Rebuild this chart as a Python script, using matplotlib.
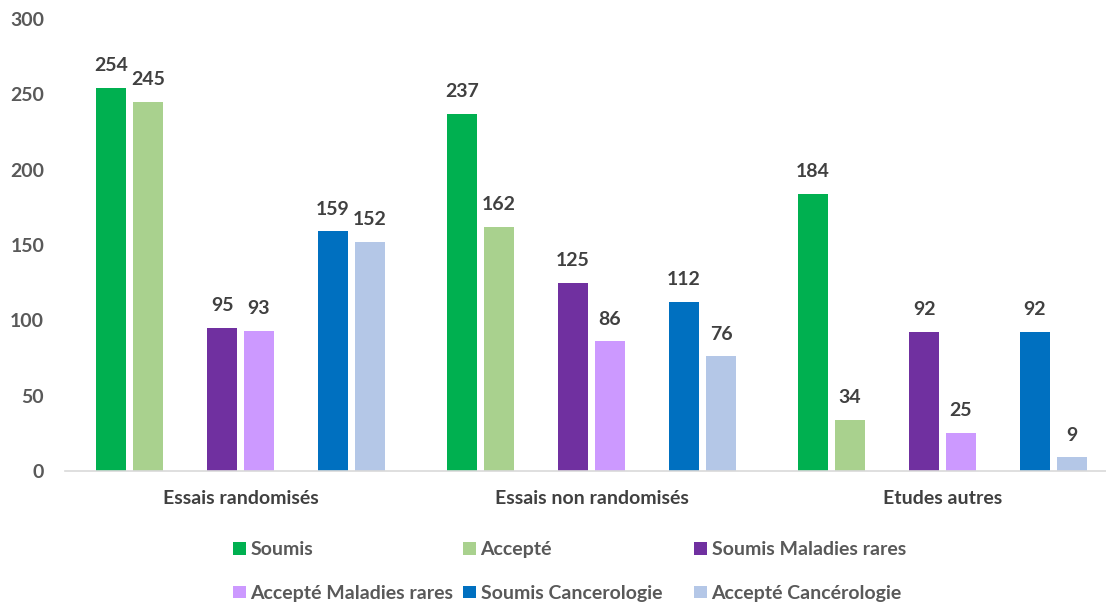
import matplotlib.pyplot as plt
import numpy as np
from matplotlib.patches import Patch

# data
categories = ['Essais randomisés', 'Essais non randomisés', 'Etudes autres']
series = ['Soumis', 'Accepté', 'Soumis Maladies rares',
          'Accepté Maladies rares', 'Soumis Cancerologie', 'Accepté Cancérologie']
soumis = [254, 237, 184]
accepte = [245, 162, 34]
soumis_mr = [95, 125, 92]
accepte_mr = [93, 86, 25]
soumis_c = [159, 112, 92]
accepte_c = [152, 76, 9]
values = [soumis, accepte, soumis_mr, accepte_mr, soumis_c, accepte_c]

colors = ['#00B050', '#A9D18E', '#7030A0', '#CC99FF', '#0070C0', '#B4C7E7']

plt.rcParams['font.family'] = ['Lato', 'DejaVu Sans']
plt.rcParams['font.weight'] = 'bold'

W, H = 1106, 602
fig = plt.figure(figsize=(W / 100, H / 100), dpi=100)
ax = fig.add_axes([65 / W, 131 / H, (1118 - 65) / W, (471 - 19) / H])

offsets = [-0.369, -0.2635, -0.0527, 0.0527, 0.2635, 0.369]
width = 0.0855
x = np.arange(len(categories))

for vals, off, c, name in zip(values, offsets, colors, series):
    bars = ax.bar(x + off, vals, width, color=c, label=name, zorder=2)
    for b, v in zip(bars, vals):
        ax.annotate(str(v), (b.get_x() + b.get_width() / 2, v),
                    xytext=(0, 10), textcoords='offset points',
                    ha='center', va='bottom', fontsize=14,
                    fontweight='bold', color='#404040')

ax.set_xlim(-0.5, 2.5)
ax.set_ylim(0, 300)
ax.set_yticks(range(0, 301, 50))
ax.set_xticks(x)
ax.set_xticklabels(categories)
ax.tick_params(axis='y', length=0, pad=15, labelsize=14, labelcolor='#595959')
ax.tick_params(axis='x', length=0, pad=14, labelsize=14, labelcolor='#404040')
for t in ax.get_xticklabels() + ax.get_yticklabels():
    t.set_fontweight('bold')
for s in ['top', 'right', 'left']:
    ax.spines[s].set_visible(False)
ax.spines['bottom'].set_color('#D9D9D9')
ax.spines['bottom'].set_linewidth(1.2)

# legend: three columns with equal spacing, like the original
handles = [Patch(facecolor=c) for c in colors]
col_x = [233, 463, 694]
for i, cx in enumerate(col_x):
    hs = [handles[i], handles[i + 3]]
    ls = [series[i], series[i + 3]]
    leg = fig.legend(hs, ls, loc='upper left',
                     bbox_to_anchor=(cx / W, 1 - 541 / H),
                     frameon=False, fontsize=14, handlelength=0.65,
                     handleheight=0.65, handletextpad=0.25,
                     labelspacing=1.38, borderpad=0, borderaxespad=0)
    for t in leg.get_texts():
        t.set_color('#595959')
        t.set_fontweight('bold')

fig.savefig('out.png', dpi=100)
